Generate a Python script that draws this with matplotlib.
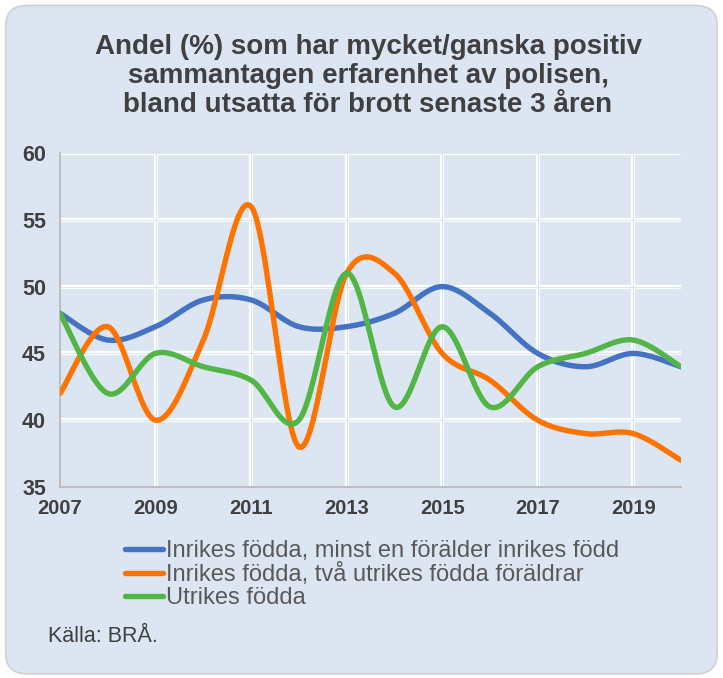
import numpy as np
import matplotlib.pyplot as plt
from matplotlib.patches import FancyBboxPatch
from matplotlib.lines import Line2D

plt.rcParams["font.family"] = ["Liberation Sans", "DejaVu Sans"]

years = list(range(2007, 2021))
inrikes_inrikes = [48, 46, 47, 49, 49, 47, 47, 48, 50, 48, 45, 44, 45, 44]
inrikes_utrikes = [42, 47, 40, 46, 56, 38, 51, 51, 45, 43, 40, 39, 39, 37]
utrikes = [48, 42, 45, 44, 43, 40, 51, 41, 47, 41, 44, 45, 46, 44]

labels = ["Inrikes födda, minst en förälder inrikes född",
          "Inrikes födda, två utrikes födda föräldrar",
          "Utrikes födda"]
colors = ["#4472C4", "#FF7300", "#52B545"]
bg = "#DCE6F3"
txt = "#404040"


def smooth(x, y, n=24):
  # excel-like smoothed line (catmull-rom as bezier)
  p = np.column_stack([x, y]).astype(float)
  out = []
  for i in range(len(p) - 1):
    p0 = p[i - 1] if i > 0 else p[i]
    p1 = p[i]
    p2 = p[i + 1]
    p3 = p[i + 2] if i + 2 < len(p) else p[i + 1]
    b1 = p1 + (p2 - p0) / 6
    b2 = p2 - (p3 - p1) / 6
    t = np.linspace(0, 1, n)[:, None]
    seg = ((1 - t) ** 3) * p1 + 3 * ((1 - t) ** 2) * t * b1 \
        + 3 * (1 - t) * t ** 2 * b2 + t ** 3 * p2
    out.append(seg if i == 0 else seg[1:])
  s = np.vstack(out)
  return s[:, 0], s[:, 1]


fig = plt.figure(figsize=(7.23, 6.78), dpi=100)
fig.patch.set_facecolor("white")
box = FancyBboxPatch((0.008, 0.006), 0.984, 0.986,
                     boxstyle="round,pad=0,rounding_size=0.03",
                     transform=fig.transFigure, facecolor=bg,
                     edgecolor="#D0D0D0", linewidth=1.2, zorder=-10)
fig.patches.append(box)

ax = fig.add_axes([60 / 723, 1 - 487 / 678, 621 / 723, 334 / 678])
ax.set_facecolor(bg)

# double white gridlines
for yv in [40, 45, 50, 55, 60]:
  ax.axhline(yv, color="white", lw=3.0, zorder=1)
  ax.axhline(yv, color=bg, lw=0.8, zorder=1.1)
for xv in [2009, 2011, 2013, 2015, 2017, 2019]:
  ax.axvline(xv, color="white", lw=3.0, zorder=1)
  ax.axvline(xv, color=bg, lw=0.8, zorder=1.1)

for ys, c in zip([inrikes_inrikes, inrikes_utrikes, utrikes], colors):
  sx, sy = smooth(years, ys)
  ax.plot(sx, sy, color=c, lw=3.9, solid_capstyle="round", zorder=3)

ax.set_xlim(2007, 2020)
ax.set_ylim(35, 60)
ax.set_xticks([2007, 2009, 2011, 2013, 2015, 2017, 2019])
ax.set_yticks([35, 40, 45, 50, 55, 60])
ax.tick_params(length=0, labelsize=14.5, colors=txt)
ax.tick_params(axis="y", pad=10, labelsize=15.5)
ax.tick_params(axis="x", pad=9)
for lab in ax.get_xticklabels() + ax.get_yticklabels():
  lab.set_fontweight("bold")
for s in ["top", "right"]:
  ax.spines[s].set_visible(False)
for s in ["left", "bottom"]:
  ax.spines[s].set_color("#BFBFBF")
  ax.spines[s].set_linewidth(1.5)

fig.text(0.509, 1 - 76 / 678,
         "Andel (%) som har mycket/ganska positiv\n"
         "sammantagen erfarenhet av polisen,\n"
         "bland utsatta för brott senaste 3 åren",
         ha="center", va="center", fontsize=20, fontweight="bold",
         color=txt, linespacing=1.17)

handles = [Line2D([], [], color=c, lw=3.9, solid_capstyle="round") for c in colors]
fig.legend(handles, labels, loc="upper left",
           bbox_to_anchor=(116 / 723, 1 - 531 / 678), frameon=False,
           fontsize=17, labelcolor="#595959", handlelength=1.6,
           handletextpad=0.1, labelspacing=0.03, borderaxespad=0)

fig.text(48 / 723, 1 - 637 / 678, "Källa: BRÅ.", ha="left", va="center",
         fontsize=15.5, color=txt)

fig.savefig("out.png", dpi=100, facecolor=fig.get_facecolor())
